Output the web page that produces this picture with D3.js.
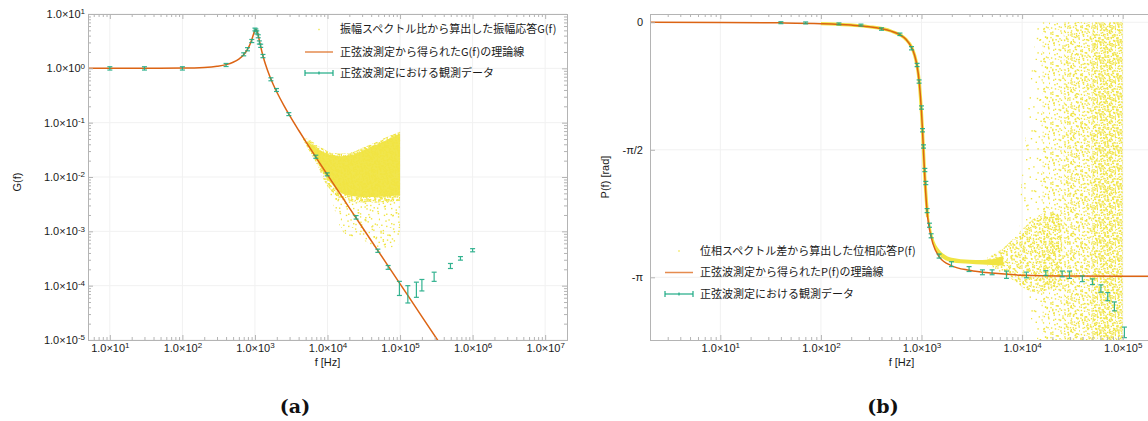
<!DOCTYPE html>
<html>
<head>
<meta charset="utf-8">
<script src="https://cdn.jsdelivr.net/npm/d3@7/dist/d3.min.js"></script>
<style>
  html, body { margin: 0; padding: 0; background: #fff; }
  svg { display: block; }
  .tick text, .lbl { font-family: "Liberation Sans", Arial, Helvetica, sans-serif; fill: #1a1a1a; }
  .jp { font-family: "Noto Sans CJK JP", "Liberation Sans", sans-serif; fill: #1a1a1a; }
  .cap { font-family: "DejaVu Serif", "Liberation Serif", serif; font-weight: bold; fill: #111; }
</style>
</head>
<body>
<svg id="fig" width="1148" height="421"></svg>
<script>
// ===== (a) amplitude response G(f) =====
// sine-wave measurements
const gainObsF  = [10, 30, 100, 400, 700, 790, 905, 1000, 1030, 1060, 1110, 1150, 1200, 1290, 1660, 1980, 2930, 6900, 9900, 24800, 49400, 68500, 98000, 128000, 168000, 200000, 295000, 495000, 680000, 1000000];
const gainObsG  = [1.0, 1.0, 1.0, 1.15, 1.81, 2.24, 3.18, 5.2, 5.0, 4.6, 3.9, 3.0, 2.6, 1.68, 0.63, 0.40, 0.144, 0.0236, 0.0112, 0.00181, 4.4e-4, 2.17e-4, 8.9e-5, 6.9e-5, 8.6e-5, 1.02e-4, 1.46e-4, 2.3e-4, 3.18e-4, 4.5e-4];
const gainObsLo = [0.93, 0.93, 0.93, 1.08, 1.70, 2.10, 2.98, 4.9, 4.7, 4.3, 3.65, 2.8, 2.43, 1.57, 0.59, 0.375, 0.135, 0.0221, 0.0105, 0.00168, 4.1e-4, 2.0e-4, 6.6e-5, 4.8e-5, 6.1e-5, 8.0e-5, 1.2e-4, 2.07e-4, 2.95e-4, 4.2e-4];
const gainObsHi = [1.07, 1.07, 1.07, 1.23, 1.93, 2.40, 3.40, 5.5, 5.3, 4.9, 4.15, 3.2, 2.78, 1.80, 0.67, 0.425, 0.153, 0.0252, 0.0119, 0.00195, 4.7e-4, 2.35e-4, 1.2e-4, 1.0e-4, 1.16e-4, 1.3e-4, 1.77e-4, 2.56e-4, 3.43e-4, 4.8e-4];
// theoretical curve
const gainTheoryF = [5, 10, 30, 100, 200, 300, 400, 500, 600, 700, 800, 850, 900, 950, 1000, 1040, 1080, 1120, 1160, 1200, 1300, 1400, 1600, 1800, 2000, 2500, 3000, 4000, 5000, 7000, 1e4, 2e4, 5e4, 1e5, 2e5, 3.5e5];
const gainTheoryG = [1.0, 1.0, 1.001, 1.009, 1.038, 1.091, 1.169, 1.291, 1.478, 1.779, 2.303, 2.72, 3.32, 4.14, 5.01, 5.2, 4.66, 3.82, 3.08, 2.51, 1.635, 1.173, 0.715, 0.494, 0.367, 0.2083, 0.1362, 0.0725, 0.0452, 0.02257, 0.01093, 0.002711, 4.33e-4, 1.082e-4, 2.70e-5, 8.83e-6];
// spectrum-ratio samples: dense core, its fuzzy rim, and the sparse fringe below
const gainCloudCoreF  = [5200, 6000, 7200, 8800, 10500, 12500, 15000, 20000, 30000, 45000, 70000, 100000];
const gainCloudCoreHi = [0.046, 0.040, 0.033, 0.029, 0.026, 0.0245, 0.0240, 0.0245, 0.030, 0.038, 0.050, 0.063];
const gainCloudCoreLo = [0.040, 0.029, 0.020, 0.012, 0.0085, 0.0065, 0.0052, 0.0046, 0.0043, 0.0043, 0.0044, 0.0046];
const gainCloudRimF  = [4600, 6000, 7200, 8800, 10500, 12500, 15000, 20000, 30000, 45000, 70000, 100000];
const gainCloudRimHi = [0.054, 0.046, 0.038, 0.033, 0.029, 0.0275, 0.027, 0.0275, 0.034, 0.043, 0.056, 0.068];
const gainCloudRimLo = [0.048, 0.026, 0.017, 0.009, 0.0062, 0.0048, 0.0040, 0.0036, 0.0034, 0.0034, 0.0035, 0.0036];
const gainCloudFringeF  = [8800, 12000, 15000, 20000, 30000, 50000, 70000, 100000];
const gainCloudFringeHi = [0.009, 0.0050, 0.0040, 0.0036, 0.0034, 0.0034, 0.0035, 0.0036];
const gainCloudFringeLo = [0.008, 0.0030, 0.0012, 8e-4, 7e-4, 5e-4, 5e-4, 6e-4];
const gainXTicks = [1e1, 1e2, 1e3, 1e4, 1e5, 1e6, 1e7];
const gainYTicks = [1e-5, 1e-4, 1e-3, 1e-2, 1e-1, 1e0, 1e1];
const gainLegend = ["振幅スペクトル比から算出した振幅応答G(f)", "正弦波測定から得られたG(f)の理論線", "正弦波測定における観測データ"];

// ===== (b) phase response P(f) =====
const phaseObsF   = [40, 70.5, 151, 250, 400, 610, 795, 904, 946, 1000, 1023, 1047, 1079, 1103, 1137, 1200, 1246, 1496, 1985, 2970, 4030, 5030, 6990, 11030, 17200, 25000, 29600, 39700, 50000, 60700, 71000, 82700, 104000];
const phaseObsP   = [-0.005, -0.008, -0.02, -0.035, -0.083, -0.148, -0.32, -0.526, -0.73, -1.05, -1.33, -1.53, -1.82, -1.98, -2.32, -2.50, -2.63, -2.88, -2.98, -3.04, -3.08, -3.08, -3.11, -3.113, -3.09, -3.10, -3.11, -3.16, -3.196, -3.28, -3.38, -3.50, -3.82];
const phaseObsErr = [0.012, 0.012, 0.012, 0.012, 0.015, 0.015, 0.02, 0.02, 0.02, 0.02, 0.02, 0.02, 0.02, 0.02, 0.025, 0.025, 0.025, 0.025, 0.03, 0.03, 0.03, 0.03, 0.045, 0.035, 0.03, 0.035, 0.045, 0.035, 0.035, 0.045, 0.05, 0.055, 0.065];
const phaseTheoryF = [2, 10, 40, 100, 200, 300, 400, 500, 600, 700, 800, 850, 900, 950, 1000, 1020, 1045, 1070, 1100, 1150, 1200, 1300, 1500, 2000, 3000, 5000, 1e4, 3e4, 1e5, 2e5];
const phaseTheoryP = [0, -0.002, -0.007, -0.017, -0.035, -0.055, -0.079, -0.109, -0.149, -0.210, -0.314, -0.399, -0.529, -0.743, -1.105, -1.302, -1.571, -1.834, -2.099, -2.40, -2.55, -2.73, -2.89, -3.0, -3.055, -3.09, -3.115, -3.126, -3.128, -3.129];
// phase-difference samples
const phaseCloudTrailF  = [100, 300, 500, 700, 850, 950, 1020, 1070, 1150];
const phaseCloudTrailP  = [-0.017, -0.055, -0.109, -0.210, -0.399, -0.743, -1.302, -1.834, -2.40];
const phaseCloudCoreF  = [1150, 1300, 1500, 2000, 3000, 4000, 5000, 6500];
const phaseCloudCoreHi = [-2.30, -2.64, -2.80, -2.90, -2.925, -2.93, -2.92, -2.88];
const phaseCloudCoreLo = [-2.40, -2.73, -2.87, -2.955, -2.975, -2.985, -2.99, -3.00];
const phaseCloudSpreadF  = [4500, 6500, 8000, 10000, 13000, 18000, 25000];
const phaseCloudSpreadHi = [-2.90, -2.78, -2.68, -2.55, -2.42, -2.35, -2.35];
const phaseCloudSpreadLo = [-3.00, -3.10, -3.17, -3.26, -3.32, -3.30, -3.25];
const phaseCloudEdgeF  = [9500, 10500, 11500, 13000, 14500, 16000];
const phaseCloudEdgeHi = [-2.2, -1.6, -1.0, -0.4, -0.03, 0.0];
const phaseCloudEdgeLo = [-2.75, -3.2, -3.5, -3.75, -3.914, -3.914];
const phaseCloudLowF  = [16000, 26000];
const phaseCloudLowHi = [0.0, 0.0];
const phaseCloudLowLo = [-3.914, -3.914];
const phaseCloudMidF  = [26000, 50000];
const phaseCloudMidHi = [0.0, 0.0];
const phaseCloudMidLo = [-3.914, -3.914];
const phaseCloudFullF  = [50000, 100000];
const phaseCloudFullHi = [0.0, 0.0];
const phaseCloudFullLo = [-3.914, -3.914];
const phaseXTicks = [1e1, 1e2, 1e3, 1e4, 1e5];
const phaseYTicks = [0, -Math.PI / 2, -Math.PI];
const phaseYLabels = ["0", "-π/2", "-π"];
const phaseLegend = ["位相スペクトル差から算出した位相応答P(f)", "正弦波測定から得られたP(f)の理論線", "正弦波測定における観測データ"];

// ===== styling =====
const YELLOW = "#f0e442", ORANGE = "#dc6414", GREEN = "#1eab85", FRAME = "#b4b4b4", GRID = "#f1f1f1";

const svg = d3.select("#fig");
const defs = svg.append("defs");

// speckle texture for the sample clouds: one base set of offsets inside a tile,
// repeated turned and shifted so that the tile does not read as a grid
const speckle = [[0.07,0.12],[0.55,0.05],[0.31,0.27],[0.83,0.21],[0.12,0.48],[0.64,0.39],[0.42,0.58],[0.93,0.55],[0.22,0.77],[0.71,0.70],[0.50,0.90],[0.03,0.91],[0.86,0.88],[0.36,0.08],[0.78,0.02],[0.18,0.30],[0.96,0.36],[0.49,0.43],[0.28,0.63],[0.60,0.76]];
const tileCopies = [
  ([u, v]) => [u, v],
  ([u, v]) => [(1 - v + 0.37) % 1, (u + 0.11) % 1],
  ([u, v]) => [(1 - u + 0.19) % 1, (1 - v + 0.53) % 1],
  ([u, v]) => [(v + 0.71) % 1, (1 - u + 0.29) % 1]
];
function speckPattern(id, size) {
  const p = defs.append("pattern").attr("id", id).attr("patternUnits", "userSpaceOnUse")
    .attr("width", size).attr("height", size);
  tileCopies.forEach(tf => speckle.forEach(pt => {
    const [u, v] = tf(pt);
    p.append("rect").attr("x", u * size).attr("y", v * size)
      .attr("width", 1.4).attr("height", 1.4).attr("fill", YELLOW);
  }));
}
// tile size sets the dot density
[["spk60", 60], ["spk46", 46], ["spk38", 38], ["spk30", 30], ["spk24", 24], ["spk18", 18]].forEach(([id, s]) => speckPattern(id, s));

// scales
const xA = d3.scaleLog().domain([5, 2e7]).range([88, 567]);
const yA = d3.scaleLog().domain([1e-5, 1e1]).range([340, 14]);
const xB = d3.scaleLog().domain([2, 2e5]).range([650, 1153]);
const yB = d3.scaleLinear().domain([-3.914, 0.102]).range([340, 14]);

function clipFor(id, x, y) {
  const [x0, x1] = x.range(), [y0, y1] = y.range();
  defs.append("clipPath").attr("id", id).append("rect")
    .attr("x", x0).attr("y", y1).attr("width", x1 - x0).attr("height", y0 - y1);
  return `url(#${id})`;
}

function grid(g, x, y, xt, yt) {
  const [x0, x1] = x.range(), [y0, y1] = y.range();
  g.append("g").selectAll("line").data(xt).join("line")
    .attr("x1", d => x(d)).attr("x2", d => x(d)).attr("y1", y1).attr("y2", y0)
    .attr("stroke", GRID).attr("stroke-width", 1);
  g.append("g").selectAll("line").data(yt).join("line")
    .attr("x1", x0).attr("x2", x1).attr("y1", d => y(d)).attr("y2", d => y(d))
    .attr("stroke", GRID).attr("stroke-width", 1);
}

function band(g, x, y, F, HI, LO, fill, opacity = 1) {
  const data = F.map((f, i) => ({ f, hi: HI[i], lo: LO[i] }));
  g.append("path").datum(data)
    .attr("d", d3.area().x(d => x(d.f)).y0(d => y(d.lo)).y1(d => y(d.hi)).curve(d3.curveMonotoneX))
    .attr("fill", fill).attr("fill-opacity", opacity).attr("stroke", "none");
}

function theory(g, x, y, F, V) {
  const data = F.map((f, i) => [f, V[i]]);
  g.append("path").datum(data)
    .attr("d", d3.line().x(d => x(d[0])).y(d => y(d[1])).curve(d3.curveMonotoneX))
    .attr("fill", "none").attr("stroke", ORANGE).attr("stroke-width", 1.5);
}

function errorBars(g, x, y, F, V, LO, HI) {
  const data = F.map((f, i) => ({ f, v: V[i], lo: LO[i], hi: HI[i] }));
  const eb = g.append("g").attr("stroke", GREEN).attr("stroke-width", 1.2).attr("opacity", 0.9)
    .selectAll("g").data(data).join("g");
  eb.append("line").attr("x1", d => x(d.f)).attr("x2", d => x(d.f))
    .attr("y1", d => y(d.lo)).attr("y2", d => y(d.hi));
  eb.append("line").attr("x1", d => x(d.f) - 2.5).attr("x2", d => x(d.f) + 2.5)
    .attr("y1", d => y(d.lo)).attr("y2", d => y(d.lo));
  eb.append("line").attr("x1", d => x(d.f) - 2.5).attr("x2", d => x(d.f) + 2.5)
    .attr("y1", d => y(d.hi)).attr("y2", d => y(d.hi));
}

function sciLabels(sel) {
  sel.selectAll(".tick text").each(function (d) {
    const t = d3.select(this);
    const e = Math.round(Math.log10(d));
    t.text(null);
    t.append("tspan").text("1.0×10");
    t.append("tspan").attr("dy", "-0.45em").attr("font-size", "8px").text(e);
  });
}

function frameAxes(g, x, y, opts) {
  const [x0, x1] = x.range(), [y0, y1] = y.range();
  const style = s => {
    s.select(".domain").remove();
    s.selectAll(".tick line").attr("stroke", FRAME);
    s.selectAll(".tick text").attr("font-size", 11);
  };
  const xMinor = x.ticks(12).filter(v => !opts.xMajor.some(m => Math.abs(m - v) / m < 1e-9));
  // bottom
  g.append("g").attr("transform", `translate(0,${y0})`)
    .call(d3.axisBottom(x).tickValues(opts.xMajor).tickSize(-5).tickPadding(4).tickFormat(() => ""))
    .call(style).call(sciLabels);
  g.append("g").attr("transform", `translate(0,${y0})`)
    .call(d3.axisBottom(x).tickValues(xMinor).tickSize(-3).tickFormat(() => "")).call(style);
  // top
  g.append("g").attr("transform", `translate(0,${y1})`)
    .call(d3.axisTop(x).tickValues(opts.xMajor).tickSize(-5).tickFormat(() => "")).call(style);
  g.append("g").attr("transform", `translate(0,${y1})`)
    .call(d3.axisTop(x).tickValues(xMinor).tickSize(-3).tickFormat(() => "")).call(style);
  // left / right
  const left = d3.axisLeft(y).tickValues(opts.yMajor).tickSize(-5).tickPadding(opts.yPad);
  if (opts.yLabels) left.tickFormat((d, i) => opts.yLabels[i]); else left.tickFormat(() => "");
  const lg = g.append("g").attr("transform", `translate(${x0},0)`).call(left).call(style);
  if (!opts.yLabels) lg.call(sciLabels);
  g.append("g").attr("transform", `translate(${x1},0)`)
    .call(d3.axisRight(y).tickValues(opts.yMajor).tickSize(-5).tickFormat(() => "")).call(style);
  if (opts.yMinor) {
    g.append("g").attr("transform", `translate(${x0},0)`)
      .call(d3.axisLeft(y).tickValues(opts.yMinor).tickSize(-3).tickFormat(() => "")).call(style);
    g.append("g").attr("transform", `translate(${x1},0)`)
      .call(d3.axisRight(y).tickValues(opts.yMinor).tickSize(-3).tickFormat(() => "")).call(style);
  }
  g.append("rect").attr("x", x0 + 0.5).attr("y", y1 + 0.5).attr("width", x1 - x0).attr("height", y0 - y1)
    .attr("fill", "none").attr("stroke", FRAME).attr("stroke-width", 1);
}

function legend(g, x, yRows, labels) {
  const sx0 = x, sx1 = x + 28, tx = x + 35;
  g.append("rect").attr("x", (sx0 + sx1) / 2 - 0.7).attr("y", yRows[0] - 0.7)
    .attr("width", 1.4).attr("height", 1.4).attr("fill", YELLOW);
  g.append("line").attr("x1", sx0).attr("x2", sx1).attr("y1", yRows[1]).attr("y2", yRows[1])
    .attr("stroke", ORANGE).attr("stroke-opacity", 0.75).attr("stroke-width", 1.5);
  const eg = g.append("g").attr("stroke", GREEN).attr("stroke-width", 1.2);
  eg.append("line").attr("x1", sx0).attr("x2", sx1).attr("y1", yRows[2]).attr("y2", yRows[2]);
  [sx0, sx1].forEach(px => eg.append("line").attr("x1", px).attr("x2", px)
    .attr("y1", yRows[2] - 3).attr("y2", yRows[2] + 3));
  eg.append("line").attr("x1", (sx0 + sx1) / 2).attr("x2", (sx0 + sx1) / 2)
    .attr("y1", yRows[2] - 1.5).attr("y2", yRows[2] + 1.5);
  g.selectAll(null).data(labels).join("text").attr("class", "jp")
    .attr("x", tx).attr("y", (d, i) => yRows[i]).attr("dy", "0.36em")
    .attr("font-size", 11).text(d => d);
}

// ---------- panel (a) ----------
{
  const g = svg.append("g");
  const yMinor = yA.ticks(12).filter(v => !gainYTicks.some(m => Math.abs(m - v) / m < 1e-9));
  grid(g, xA, yA, gainXTicks, gainYTicks);
  const plot = g.append("g").attr("clip-path", clipFor("clipA", xA, yA));
  band(plot, xA, yA, gainCloudFringeF, gainCloudFringeHi, gainCloudFringeLo, "url(#spk38)");
  band(plot, xA, yA, gainCloudRimF, gainCloudRimHi, gainCloudRimLo, "url(#spk18)");
  band(plot, xA, yA, gainCloudRimF, gainCloudRimHi, gainCloudRimLo, "url(#spk24)");
  band(plot, xA, yA, gainCloudCoreF, gainCloudCoreHi, gainCloudCoreLo, YELLOW, 0.95);
  theory(plot, xA, yA, gainTheoryF, gainTheoryG);
  errorBars(plot, xA, yA, gainObsF, gainObsG, gainObsLo, gainObsHi);
  frameAxes(g, xA, yA, { xMajor: gainXTicks, yMajor: gainYTicks, yMinor, yPad: 3 });
  legend(g, 305, [29.5, 52, 73], gainLegend);
  g.append("text").attr("class", "lbl").attr("transform", "translate(21,182) rotate(-90)")
    .attr("text-anchor", "middle").attr("font-size", 11).text("G(f)");
  g.append("text").attr("class", "lbl").attr("x", (xA.range()[0] + xA.range()[1]) / 2).attr("y", 366)
    .attr("text-anchor", "middle").attr("font-size", 11).text("f [Hz]");
  g.append("text").attr("class", "cap").attr("x", 295).attr("y", 413)
    .attr("text-anchor", "middle").attr("font-size", 19).text("(a)");
}

// ---------- panel (b) ----------
{
  const g = svg.append("g");
  grid(g, xB, yB, phaseXTicks, phaseYTicks);
  const plot = g.append("g").attr("clip-path", clipFor("clipB", xB, yB));
  band(plot, xB, yB, phaseCloudEdgeF, phaseCloudEdgeHi, phaseCloudEdgeLo, "url(#spk60)");
  band(plot, xB, yB, phaseCloudLowF, phaseCloudLowHi, phaseCloudLowLo, "url(#spk30)");
  band(plot, xB, yB, phaseCloudMidF, phaseCloudMidHi, phaseCloudMidLo, "url(#spk24)");
  band(plot, xB, yB, phaseCloudMidF, phaseCloudMidHi, phaseCloudMidLo, "url(#spk60)");
  band(plot, xB, yB, phaseCloudFullF, phaseCloudFullHi, phaseCloudFullLo, "url(#spk18)");
  band(plot, xB, yB, phaseCloudFullF, phaseCloudFullHi, phaseCloudFullLo, "url(#spk46)");
  band(plot, xB, yB, phaseCloudSpreadF, phaseCloudSpreadHi, phaseCloudSpreadLo, "url(#spk24)");
  band(plot, xB, yB, phaseCloudSpreadF, phaseCloudSpreadHi, phaseCloudSpreadLo, "url(#spk38)");
  band(plot, xB, yB, phaseCloudCoreF, phaseCloudCoreHi, phaseCloudCoreLo, YELLOW);
  plot.append("path").datum(phaseCloudTrailF.map((f, i) => [f, phaseCloudTrailP[i]]))
    .attr("d", d3.line().x(d => xB(d[0])).y(d => yB(d[1])).curve(d3.curveMonotoneX))
    .attr("fill", "none").attr("stroke", YELLOW).attr("stroke-width", 3.2);
  theory(plot, xB, yB, phaseTheoryF, phaseTheoryP);
  errorBars(plot, xB, yB, phaseObsF, phaseObsP,
    phaseObsP.map((p, i) => p - phaseObsErr[i]), phaseObsP.map((p, i) => p + phaseObsErr[i]));
  frameAxes(g, xB, yB, { xMajor: phaseXTicks, yMajor: phaseYTicks, yLabels: phaseYLabels, yPad: 7 });
  legend(g, 665, [251, 272.5, 294], phaseLegend);
  g.append("text").attr("class", "lbl").attr("transform", "translate(609,177) rotate(-90)")
    .attr("text-anchor", "middle").attr("font-size", 11).text("P(f) [rad]");
  g.append("text").attr("class", "lbl").attr("x", (xB.range()[0] + xB.range()[1]) / 2).attr("y", 366)
    .attr("text-anchor", "middle").attr("font-size", 11).text("f [Hz]");
  g.append("text").attr("class", "cap").attr("x", 883).attr("y", 413)
    .attr("text-anchor", "middle").attr("font-size", 19).text("(b)");
}
</script>
</body>
</html>
